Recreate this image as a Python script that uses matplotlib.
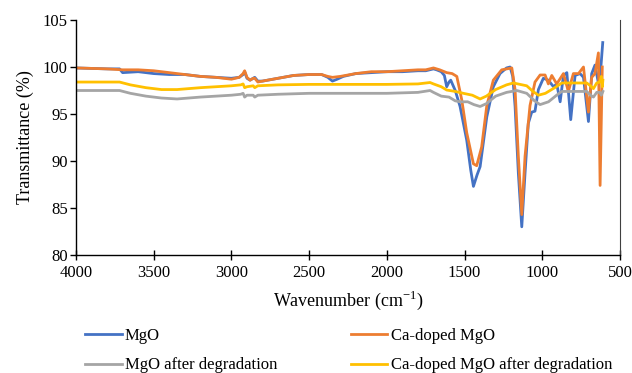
import matplotlib
matplotlib.use("Agg")
import matplotlib.pyplot as plt

plt.rcParams['font.family'] = ['Liberation Serif', 'DejaVu Serif']
plt.rcParams['mathtext.fontset'] = 'custom'
plt.rcParams['mathtext.rm'] = 'Liberation Serif'

mgo_x = [4000, 3800, 3720, 3700, 3600, 3500, 3400, 3300, 3200, 3100, 3000, 2950, 2925, 2915, 2900,
         2880, 2860, 2850, 2830, 2800, 2700, 2600, 2500, 2420, 2380, 2350, 2320, 2280, 2200, 2100,
         2000, 1900, 1800, 1750, 1700, 1680, 1650, 1630, 1615, 1600, 1589, 1560, 1529, 1486, 1460,
         1443, 1420, 1400, 1357, 1315, 1272, 1230, 1207, 1190, 1175, 1154, 1132, 1111, 1090, 1068,
         1047, 1025, 993, 961, 928, 907, 885, 864, 842, 817, 789, 757, 735, 703, 682, 661, 639, 628, 611]
mgo_y = [99.9, 99.8, 99.8, 99.4, 99.5, 99.3, 99.2, 99.2, 99.0, 98.9, 98.8, 98.9, 99.2, 99.5, 98.8,
         98.6, 98.8, 98.9, 98.5, 98.5, 98.8, 99.1, 99.2, 99.2, 98.9, 98.5, 98.7, 99.0, 99.3, 99.4,
         99.5, 99.5, 99.6, 99.6, 99.8, 99.7, 99.5, 99.1, 97.9, 98.4, 98.6, 97.5, 95.8, 92.2, 89.0,
         87.3, 88.5, 89.4, 94.7, 97.9, 99.3, 99.9, 100.0, 99.0, 95.8, 88.7, 83.0, 88.7, 94.0, 95.2,
         95.3, 97.6, 98.8, 98.6, 97.9, 98.2, 96.3, 99.1, 99.4, 94.4, 99.1, 99.3, 98.9, 94.2, 99.3,
         100.2, 98.3, 98.9, 102.6]

ca_x = [4000, 3800, 3700, 3600, 3500, 3400, 3300, 3200, 3100, 3000, 2950, 2925, 2915, 2900, 2880,
        2860, 2850, 2830, 2800, 2700, 2600, 2500, 2420, 2380, 2350, 2300, 2200, 2100, 2000, 1900,
        1800, 1750, 1700, 1660, 1615, 1580, 1550, 1518, 1486, 1443, 1422, 1390, 1357, 1315, 1261,
        1196, 1175, 1154, 1132, 1111, 1079, 1047, 1014, 982, 961, 939, 907, 864, 832, 800, 767,
        735, 703, 682, 661, 639, 628, 614]
ca_y = [99.9, 99.8, 99.7, 99.7, 99.6, 99.4, 99.2, 99.0, 98.9, 98.7, 98.9, 99.3, 99.6, 98.9, 98.6,
        98.8, 98.8, 98.4, 98.5, 98.8, 99.1, 99.2, 99.2, 99.0, 98.9, 99.0, 99.3, 99.5, 99.5, 99.6,
        99.7, 99.7, 99.9, 99.7, 99.4, 99.3, 99.0, 96.5, 93.0, 89.7, 89.5, 91.5, 95.9, 98.6, 99.7,
        99.9, 97.6, 90.5, 84.3, 90.5, 95.9, 98.4, 99.15, 99.15, 98.2, 99.1, 98.2, 99.3, 97.4, 99.3,
        99.3, 100.0, 95.2, 98.9, 99.3, 101.5, 87.4, 100.0]

mgo_deg_x = [4000, 3720, 3650, 3550, 3450, 3350, 3200, 3000, 2940, 2925, 2915, 2900, 2860, 2850,
             2830, 2700, 2500, 2200, 2000, 1800, 1722, 1700, 1650, 1600, 1560, 1529, 1480, 1440,
             1400, 1360, 1300, 1230, 1164, 1100, 1050, 1014, 960, 900, 874, 800, 714, 690, 671,
             650, 630, 620, 610]
mgo_deg_y = [97.5, 97.5, 97.2, 96.9, 96.7, 96.6, 96.8, 97.0, 97.1, 97.2, 96.8, 97.0, 97.0, 96.8,
             97.0, 97.1, 97.2, 97.2, 97.2, 97.3, 97.5, 97.3, 96.9, 96.8, 96.4, 96.3, 96.3, 96.0,
             95.8, 96.1, 96.9, 97.3, 97.5, 97.2, 96.4, 96.0, 96.3, 97.1, 97.4, 97.4, 97.4, 97.0,
             96.8, 97.3, 97.3, 97.0, 97.4]

ca_deg_x = [4000, 3720, 3650, 3550, 3450, 3350, 3200, 3000, 2940, 2925, 2915, 2900, 2860, 2850,
            2830, 2700, 2500, 2200, 2000, 1800, 1722, 1700, 1650, 1615, 1560, 1508, 1450, 1400,
            1360, 1300, 1230, 1186, 1100, 1060, 1025, 980, 920, 874, 800, 714, 690, 671, 650,
            630, 620, 614, 610]
ca_deg_y = [98.4, 98.4, 98.1, 97.8, 97.6, 97.6, 97.8, 98.0, 98.1, 98.2, 97.8, 97.9, 98.0, 97.8,
            98.0, 98.1, 98.15, 98.15, 98.15, 98.2, 98.35, 98.2, 97.9, 97.55, 97.4, 97.2, 97.0, 96.6,
            96.9, 97.6, 98.1, 98.3, 98.0, 97.4, 97.0, 97.2, 97.8, 98.3, 98.3, 98.3, 98.0, 97.7, 98.3,
            98.4, 99.0, 97.9, 98.6]

labels = ["MgO", "Ca-doped MgO", "MgO after degradation", "Ca-doped MgO after degradation"]
colors = ["#4472C4", "#ED7D31", "#A5A5A5", "#FFC000"]

x_ticks = [4000, 3500, 3000, 2500, 2000, 1500, 1000, 500]
y_ticks = [80, 85, 90, 95, 100, 105]

fig = plt.figure(figsize=(6.32, 3.73), dpi=100)
ax = fig.add_axes([76/632, 1-255/373, (620-76)/632, (255-20)/373])

series = [(mgo_x, mgo_y), (ca_x, ca_y), (mgo_deg_x, mgo_deg_y), (ca_deg_x, ca_deg_y)]
for (xs, ys), lab, c in zip(series, labels, colors):
    ax.plot(xs, ys, color=c, lw=2.0, label=lab, solid_joinstyle='round')

ax.set_xlim(4000, 500)
ax.set_ylim(80, 105)
ax.set_xticks(x_ticks)
ax.set_yticks(y_ticks)
ax.tick_params(axis='x', direction='inout', length=7, width=1, labelsize=12, pad=4)
ax.tick_params(axis='y', direction='out', length=4, width=1, labelsize=12, pad=2)
ax.spines['top'].set_visible(False)
ax.spines['right'].set_color('#404040')
for s in ['left', 'bottom']:
    ax.spines[s].set_color('black')
    ax.spines[s].set_linewidth(1.0)

ax.set_xlabel(r'Wavenumber (cm$^{\mathregular{-1}}$)', fontsize=13, labelpad=5)
ax.set_ylabel('Transmittance (%)', fontsize=13, labelpad=6)

handles, labs = ax.get_legend_handles_labels()
order = [0, 2, 1, 3]
fig.legend([handles[i] for i in order], [labs[i] for i in order], ncol=2,
           loc='upper left', bbox_to_anchor=(85/632, 1-328/373), frameon=False,
           fontsize=12, handlelength=2.2, handletextpad=0.2, columnspacing=4.4,
           labelspacing=0.8, borderpad=0, borderaxespad=0)

fig.savefig('out.png', dpi=100)
